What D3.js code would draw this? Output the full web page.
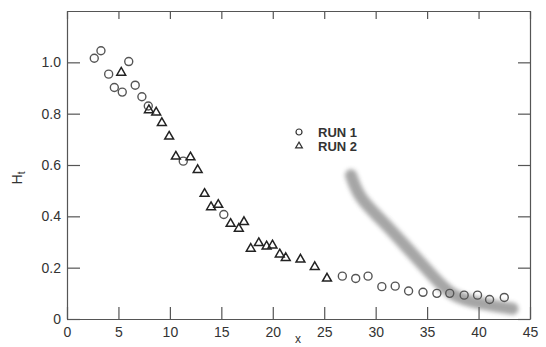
<!DOCTYPE html>
<html lang="en">
<head>
    <meta charset="UTF-8">
    <script src="https://d3js.org/d3.v7.min.js"></script>
    <title>ht_runs</title>
    <style>
        body { margin: 0; background: #fff; }
        text { font-family: "Liberation Sans", Arial, sans-serif; fill: #333; }
    </style>
</head>
<body>
    <script type="text/javascript">

// run 1 (circles)
var run1X = [2.65, 3.3, 4.05, 4.6, 5.37, 6.0, 6.63, 7.28, 7.9, 11.3, 15.24,
             26.76, 28.06, 29.26, 30.6, 31.9, 33.2, 34.6, 35.95, 37.2, 38.6, 39.9, 41.07, 42.5];
var run1Y = [1.016, 1.045, 0.954, 0.902, 0.884, 1.003, 0.911, 0.866, 0.83, 0.615, 0.407,
             0.167, 0.158, 0.167, 0.126, 0.128, 0.109, 0.104, 0.1, 0.1, 0.093, 0.093, 0.076, 0.084];

// run 2 (triangles)
var run2X = [5.27, 7.96, 8.67, 9.22, 9.93, 10.58, 12.0, 12.7, 13.37, 14.0, 14.7, 15.9,
             16.7, 17.2, 17.86, 18.64, 19.4, 19.97, 20.68, 21.26, 22.69, 24.08, 25.27];
var run2Y = [0.96, 0.814, 0.805, 0.764, 0.711, 0.633, 0.63, 0.581, 0.488, 0.436, 0.445, 0.371,
             0.352, 0.378, 0.274, 0.296, 0.283, 0.287, 0.252, 0.238, 0.232, 0.203, 0.158];

// grey smudge across the plot
var smudgeX = [27.6, 28.4, 30.5, 33.0, 35.5, 37.3, 40.0, 43.3];
var smudgeY = [0.56, 0.47, 0.39, 0.28, 0.17, 0.09, 0.06, 0.04];

var xTicks = [0, 5, 10, 15, 20, 25, 30, 35, 40, 45];
var yTicks = [0, 0.2, 0.4, 0.6, 0.8, 1.0];
var yTickLabels = ["0", "0.2", "0.4", "0.6", "0.8", "1.0"];
var legendLabels = ["RUN 1", "RUN 2"];

var width = 546, height = 347;
var mLeft = 67, mRight = 530, mTop = 11, mBottom = 319;

var svg = d3.select("body").append("svg").attr("width", width).attr("height", height);

var x = d3.scaleLinear().domain([0, 45]).range([mLeft, mRight]);
var y = d3.scaleLinear().domain([0, 1.2]).range([mBottom, mTop]);

var defs = svg.append("defs");
defs.append("filter").attr("id", "blur").append("feGaussianBlur").attr("stdDeviation", 2);

// smudge
var smudge = smudgeX.map(function(d, i) { return [d, smudgeY[i]]; });
svg.append("path")
    .datum(smudge)
    .attr("d", d3.line().x(function(d) { return x(d[0]); }).y(function(d) { return y(d[1]); }).curve(d3.curveBasis))
    .attr("fill", "none")
    .attr("stroke", "#6a6a6a")
    .attr("stroke-width", 12)
    .attr("stroke-linecap", "round")
    .attr("opacity", 0.6)
    .attr("filter", "url(#blur)");

// frame + axes
var gx = svg.append("g").attr("transform", "translate(0," + mBottom + ")")
    .call(d3.axisBottom(x).tickValues(xTicks).tickSizeInner(-12).tickSizeOuter(0).tickPadding(8).tickFormat(d3.format("d")));
var gy = svg.append("g").attr("transform", "translate(" + mLeft + ",0)")
    .call(d3.axisLeft(y).tickValues(yTicks).tickSizeInner(-13).tickSizeOuter(0).tickPadding(6)
        .tickFormat(function(d, i) { return yTickLabels[i]; }));
var gt = svg.append("g").attr("transform", "translate(0," + mTop + ")")
    .call(d3.axisTop(x).tickValues(xTicks).tickSizeInner(-8).tickSizeOuter(0).tickFormat(""));
var gr = svg.append("g").attr("transform", "translate(" + mRight + ",0)")
    .call(d3.axisRight(y).tickValues(yTicks).tickSizeInner(-12).tickSizeOuter(0).tickFormat(""));

[gx, gy, gt, gr].forEach(function(g) {
    g.selectAll("path, line").attr("stroke", "#555").attr("stroke-width", 1.2);
    g.selectAll("text").attr("font-size", 14).attr("fill", "#333")
        .style("font-family", "'Liberation Sans', Arial, sans-serif");
});

// points
svg.append("g").selectAll("circle")
    .data(run1X)
    .enter().append("circle")
    .attr("cx", function(d) { return x(d); })
    .attr("cy", function(d, i) { return y(run1Y[i]); })
    .attr("r", 4)
    .attr("fill", "none")
    .attr("stroke", "#555")
    .attr("stroke-width", 1.4);

var tri = d3.symbol().type(d3.symbolTriangle).size(34);
svg.append("g").selectAll("path")
    .data(run2X)
    .enter().append("path")
    .attr("d", tri)
    .attr("transform", function(d, i) { return "translate(" + x(d) + "," + y(run2Y[i]) + ")"; })
    .attr("fill", "none")
    .attr("stroke", "#222")
    .attr("stroke-width", 1.5);

// legend
var lg = svg.append("g").attr("transform", "translate(299,132)");
lg.append("circle").attr("r", 3).attr("fill", "none").attr("stroke", "#333").attr("stroke-width", 1.2);
lg.append("path").attr("d", d3.symbol().type(d3.symbolTriangle).size(20)).attr("transform", "translate(0,14)")
    .attr("fill", "none").attr("stroke", "#333").attr("stroke-width", 1.2);
lg.selectAll("text").data(legendLabels).enter().append("text")
    .attr("x", 19).attr("y", function(d, i) { return i * 14 + 5; })
    .attr("font-size", 13).attr("font-weight", "bold").text(function(d) { return d; });

// axis titles
svg.append("text").attr("transform", "translate(22,178) rotate(-90)")
    .attr("text-anchor", "middle").attr("font-size", 14)
    .html("H<tspan font-size='10' dy='3'>t</tspan>");
svg.append("text").attr("x", 298).attr("y", 343).attr("text-anchor", "middle").attr("font-size", 12).text("x");

    </script>
</body>
</html>
